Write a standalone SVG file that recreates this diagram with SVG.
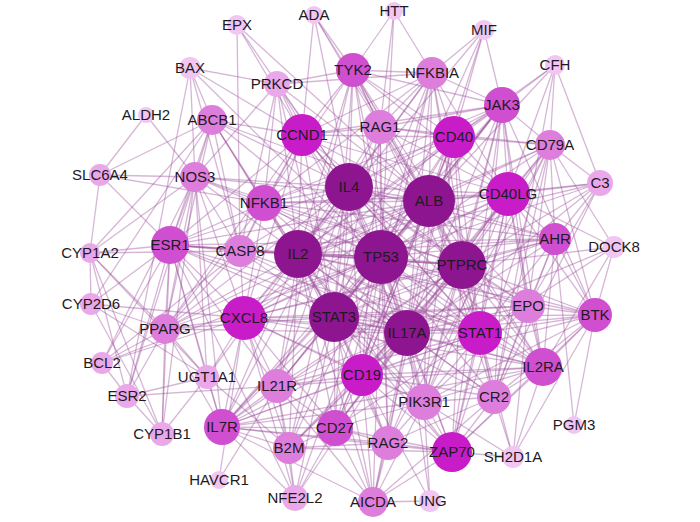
<svg xmlns="http://www.w3.org/2000/svg" width="700" height="522" viewBox="0 0 700 522">
<style>
#edges path{fill:none;stroke:#9d509d;stroke-opacity:.42;stroke-width:1.3}
.n text{font-family:"Liberation Sans",Arial,sans-serif;font-size:15px;fill:#1e1a1e;text-anchor:middle}
.d circle{fill:#8d158f}
.b circle{fill:#c81cc8}
.m circle{fill:#d04ed0}
.l circle{fill:#dd7edd}
.p2 circle{fill:#eaa8ea}
.p circle{fill:#f2c6f2}
</style>
<rect width="700" height="522" fill="#ffffff"/>
<g id="edges">
<path d="M237 25L240 251"/><path d="M237 25L302 135"/><path d="M237 25L349 187"/><path d="M237 25L429 201"/>
<path d="M314 15L302 135"/><path d="M314 15L353 70"/><path d="M314 15L349 187"/><path d="M314 15L429 201"/><path d="M314 15L380 127"/>
<path d="M394 11L353 70"/><path d="M394 11L381 257"/><path d="M394 11L432 73"/><path d="M394 11L380 127"/>
<path d="M484 30L432 73"/><path d="M484 30L454 137"/><path d="M484 30L429 201"/><path d="M484 30L381 257"/><path d="M484 30L298 254"/><path d="M484 30L502 105"/>
<path d="M190 68L302 135"/><path d="M190 68L381 257"/><path d="M190 68L240 251"/><path d="M190 68L195 177"/><path d="M190 68L127 396"/><path d="M190 68L212 120"/><path d="M190 68L277 84"/>
<path d="M146 115L100 175"/><path d="M146 115L195 177"/>
<path d="M100 175L195 177"/><path d="M100 175L90 253"/><path d="M100 175L212 120"/><path d="M100 175L264 203"/><path d="M100 175L170 245"/>
<path d="M90 253L170 245"/><path d="M90 253L91 304"/><path d="M90 253L165 329"/><path d="M90 253L240 251"/><path d="M90 253L207 377"/><path d="M90 253L212 120"/><path d="M90 253L127 396"/><path d="M90 253L195 177"/>
<path d="M91 304L170 245"/><path d="M91 304L165 329"/><path d="M91 304L207 377"/><path d="M91 304L162 434"/><path d="M91 304L212 120"/><path d="M91 304L244 318"/>
<path d="M102 363L170 245"/><path d="M102 363L165 329"/><path d="M102 363L244 318"/><path d="M102 363L381 257"/><path d="M102 363L127 396"/><path d="M102 363L195 177"/><path d="M102 363L240 251"/>
<path d="M127 396L170 245"/><path d="M127 396L165 329"/><path d="M127 396L207 377"/><path d="M127 396L162 434"/><path d="M127 396L277 386"/><path d="M127 396L195 177"/>
<path d="M162 434L170 245"/><path d="M162 434L165 329"/><path d="M162 434L207 377"/><path d="M162 434L90 253"/><path d="M162 434L195 177"/>
<path d="M207 377L165 329"/><path d="M207 377L170 245"/><path d="M207 377L195 177"/><path d="M207 377L222 427"/><path d="M207 377L244 318"/><path d="M207 377L298 254"/>
<path d="M165 329L244 318"/><path d="M165 329L195 177"/><path d="M165 329L170 245"/><path d="M165 329L381 257"/><path d="M165 329L298 254"/><path d="M165 329L334 317"/><path d="M165 329L264 203"/><path d="M165 329L429 201"/><path d="M165 329L349 187"/><path d="M165 329L302 135"/><path d="M165 329L407 333"/><path d="M165 329L240 251"/><path d="M165 329L222 427"/>
<path d="M195 177L170 245"/><path d="M195 177L240 251"/><path d="M195 177L264 203"/><path d="M195 177L298 254"/><path d="M195 177L381 257"/><path d="M195 177L429 201"/><path d="M195 177L212 120"/><path d="M195 177L244 318"/><path d="M195 177L349 187"/><path d="M195 177L462 265"/><path d="M195 177L222 427"/><path d="M195 177L277 84"/>
<path d="M212 120L170 245"/><path d="M212 120L240 251"/><path d="M212 120L381 257"/><path d="M212 120L298 254"/><path d="M212 120L429 201"/><path d="M212 120L302 135"/><path d="M212 120L264 203"/><path d="M212 120L165 329"/><path d="M212 120L349 187"/><path d="M212 120L334 317"/>
<path d="M170 245L240 251"/><path d="M170 245L244 318"/><path d="M170 245L298 254"/><path d="M170 245L381 257"/><path d="M170 245L334 317"/><path d="M170 245L264 203"/><path d="M170 245L302 135"/><path d="M170 245L429 201"/><path d="M170 245L349 187"/><path d="M170 245L462 265"/><path d="M170 245L407 333"/><path d="M170 245L480 333"/><path d="M170 245L222 427"/><path d="M170 245L277 386"/>
<path d="M240 251L298 254"/><path d="M240 251L381 257"/><path d="M240 251L334 317"/><path d="M240 251L264 203"/><path d="M240 251L244 318"/><path d="M240 251L429 201"/><path d="M240 251L349 187"/><path d="M240 251L462 265"/><path d="M240 251L302 135"/><path d="M240 251L480 333"/><path d="M240 251L407 333"/>
<path d="M277 84L353 70"/><path d="M277 84L302 135"/><path d="M277 84L264 203"/><path d="M277 84L349 187"/><path d="M277 84L381 257"/><path d="M277 84L429 201"/><path d="M277 84L298 254"/><path d="M277 84L240 251"/><path d="M277 84L334 317"/><path d="M277 84L432 73"/>
<path d="M353 70L432 73"/><path d="M353 70L380 127"/><path d="M353 70L302 135"/><path d="M353 70L349 187"/><path d="M353 70L429 201"/><path d="M353 70L381 257"/><path d="M353 70L298 254"/><path d="M353 70L334 317"/><path d="M353 70L480 333"/><path d="M353 70L502 105"/><path d="M353 70L454 137"/><path d="M353 70L264 203"/><path d="M353 70L462 265"/><path d="M353 70L407 333"/><path d="M353 70L508 194"/><path d="M353 70L543 367"/><path d="M353 70L277 386"/>
<path d="M432 73L380 127"/><path d="M432 73L454 137"/><path d="M432 73L502 105"/><path d="M432 73L349 187"/><path d="M432 73L429 201"/><path d="M432 73L381 257"/><path d="M432 73L298 254"/><path d="M432 73L264 203"/><path d="M432 73L302 135"/><path d="M432 73L334 317"/><path d="M432 73L480 333"/><path d="M432 73L462 265"/><path d="M432 73L508 194"/><path d="M432 73L407 333"/><path d="M432 73L362 375"/>
<path d="M555 65L600 183"/><path d="M555 65L502 105"/><path d="M555 65L454 137"/><path d="M555 65L508 194"/><path d="M555 65L494 397"/><path d="M555 65L429 201"/><path d="M555 65L550 145"/>
<path d="M502 105L454 137"/><path d="M502 105L508 194"/><path d="M502 105L429 201"/><path d="M502 105L381 257"/><path d="M502 105L298 254"/><path d="M502 105L349 187"/><path d="M502 105L334 317"/><path d="M502 105L480 333"/><path d="M502 105L462 265"/><path d="M502 105L407 333"/><path d="M502 105L550 145"/><path d="M502 105L543 367"/><path d="M502 105L452 452"/><path d="M502 105L595 315"/><path d="M502 105L264 203"/><path d="M502 105L380 127"/><path d="M502 105L222 427"/><path d="M502 105L277 386"/><path d="M502 105L302 135"/>
<path d="M550 145L454 137"/><path d="M550 145L508 194"/><path d="M550 145L362 375"/><path d="M550 145L494 397"/><path d="M550 145L595 315"/><path d="M550 145L462 265"/><path d="M550 145L555 239"/><path d="M550 145L600 183"/><path d="M550 145L429 201"/><path d="M550 145L298 254"/><path d="M550 145L381 257"/><path d="M550 145L528 306"/><path d="M550 145L424 402"/><path d="M550 145L380 127"/><path d="M550 145L452 452"/><path d="M550 145L388 443"/><path d="M550 145L614 247"/>
<path d="M600 183L508 194"/><path d="M600 183L494 397"/><path d="M600 183L555 239"/><path d="M600 183L429 201"/><path d="M600 183L462 265"/><path d="M600 183L298 254"/><path d="M600 183L362 375"/><path d="M600 183L381 257"/><path d="M600 183L528 306"/>
<path d="M614 247L595 315"/><path d="M614 247L543 367"/><path d="M614 247L462 265"/><path d="M614 247L480 333"/><path d="M614 247L508 194"/><path d="M614 247L407 333"/>
<path d="M555 239L508 194"/><path d="M555 239L429 201"/><path d="M555 239L381 257"/><path d="M555 239L462 265"/><path d="M555 239L298 254"/><path d="M555 239L349 187"/><path d="M555 239L334 317"/><path d="M555 239L407 333"/><path d="M555 239L480 333"/><path d="M555 239L528 306"/><path d="M555 239L595 315"/><path d="M555 239L494 397"/><path d="M555 239L543 367"/><path d="M555 239L170 245"/><path d="M555 239L264 203"/><path d="M555 239L244 318"/><path d="M555 239L574 425"/>
<path d="M528 306L462 265"/><path d="M528 306L480 333"/><path d="M528 306L334 317"/><path d="M528 306L381 257"/><path d="M528 306L429 201"/><path d="M528 306L298 254"/><path d="M528 306L349 187"/><path d="M528 306L595 315"/><path d="M528 306L543 367"/><path d="M528 306L508 194"/><path d="M528 306L502 105"/><path d="M528 306L407 333"/><path d="M528 306L494 397"/><path d="M528 306L244 318"/><path d="M528 306L513 457"/><path d="M528 306L424 402"/>
<path d="M595 315L334 317"/><path d="M595 315L362 375"/><path d="M595 315L462 265"/><path d="M595 315L480 333"/><path d="M595 315L543 367"/><path d="M595 315L494 397"/><path d="M595 315L452 452"/><path d="M595 315L424 402"/><path d="M595 315L574 425"/><path d="M595 315L508 194"/><path d="M595 315L513 457"/><path d="M595 315L407 333"/><path d="M595 315L298 254"/><path d="M595 315L381 257"/>
<path d="M513 457L452 452"/><path d="M513 457L494 397"/><path d="M513 457L543 367"/><path d="M513 457L424 402"/><path d="M513 457L480 333"/>
<path d="M430 501L373 502"/><path d="M430 501L424 402"/><path d="M430 501L407 333"/><path d="M430 501L362 375"/>
<path d="M373 502L388 443"/><path d="M373 502L362 375"/><path d="M373 502L335 428"/><path d="M373 502L452 452"/><path d="M373 502L277 386"/><path d="M373 502L424 402"/><path d="M373 502L407 333"/><path d="M373 502L454 137"/><path d="M373 502L334 317"/><path d="M373 502L222 427"/><path d="M373 502L494 397"/><path d="M373 502L298 254"/><path d="M373 502L381 257"/>
<path d="M295 498L289 448"/><path d="M295 498L222 427"/><path d="M295 498L335 428"/><path d="M295 498L277 386"/><path d="M295 498L334 317"/><path d="M295 498L381 257"/><path d="M295 498L244 318"/><path d="M295 498L170 245"/><path d="M295 498L407 333"/>
<path d="M219 480L277 386"/><path d="M219 480L244 318"/>
<path d="M289 448L222 427"/><path d="M289 448L335 428"/><path d="M289 448L452 452"/><path d="M289 448L277 386"/><path d="M289 448L362 375"/><path d="M289 448L334 317"/><path d="M289 448L298 254"/><path d="M289 448L381 257"/><path d="M289 448L407 333"/><path d="M289 448L244 318"/><path d="M289 448L349 187"/><path d="M289 448L462 265"/><path d="M289 448L207 377"/><path d="M289 448L388 443"/>
<path d="M222 427L277 386"/><path d="M222 427L335 428"/><path d="M222 427L244 318"/><path d="M222 427L334 317"/><path d="M222 427L298 254"/><path d="M222 427L381 257"/><path d="M222 427L407 333"/><path d="M222 427L362 375"/><path d="M222 427L480 333"/><path d="M222 427L452 452"/><path d="M222 427L543 367"/><path d="M222 427L424 402"/><path d="M222 427L388 443"/><path d="M222 427L349 187"/><path d="M222 427L462 265"/><path d="M222 427L429 201"/>
<path d="M335 428L362 375"/><path d="M335 428L277 386"/><path d="M335 428L388 443"/><path d="M335 428L452 452"/><path d="M335 428L298 254"/><path d="M335 428L334 317"/><path d="M335 428L381 257"/><path d="M335 428L407 333"/><path d="M335 428L244 318"/><path d="M335 428L424 402"/><path d="M335 428L349 187"/><path d="M335 428L462 265"/><path d="M335 428L480 333"/><path d="M335 428L454 137"/><path d="M335 428L508 194"/><path d="M335 428L429 201"/>
<path d="M388 443L380 127"/><path d="M388 443L452 452"/><path d="M388 443L362 375"/><path d="M388 443L424 402"/><path d="M388 443L407 333"/><path d="M388 443L334 317"/><path d="M388 443L381 257"/><path d="M388 443L298 254"/><path d="M388 443L462 265"/><path d="M388 443L494 397"/>
<path d="M452 452L424 402"/><path d="M452 452L494 397"/><path d="M452 452L543 367"/><path d="M452 452L480 333"/><path d="M452 452L407 333"/><path d="M452 452L462 265"/><path d="M452 452L381 257"/><path d="M452 452L334 317"/><path d="M452 452L362 375"/><path d="M452 452L298 254"/><path d="M452 452L508 194"/>
<path d="M424 402L362 375"/><path d="M424 402L407 333"/><path d="M424 402L480 333"/><path d="M424 402L334 317"/><path d="M424 402L381 257"/><path d="M424 402L462 265"/><path d="M424 402L298 254"/><path d="M424 402L494 397"/><path d="M424 402L543 367"/><path d="M424 402L454 137"/><path d="M424 402L508 194"/><path d="M424 402L429 201"/><path d="M424 402L349 187"/><path d="M424 402L244 318"/><path d="M424 402L502 105"/>
<path d="M494 397L362 375"/><path d="M494 397L480 333"/><path d="M494 397L407 333"/><path d="M494 397L462 265"/><path d="M494 397L543 367"/><path d="M494 397L381 257"/><path d="M494 397L508 194"/><path d="M494 397L429 201"/><path d="M494 397L298 254"/><path d="M494 397L334 317"/>
<path d="M543 367L480 333"/><path d="M543 367L462 265"/><path d="M543 367L407 333"/><path d="M543 367L381 257"/><path d="M543 367L298 254"/><path d="M543 367L334 317"/><path d="M543 367L349 187"/><path d="M543 367L429 201"/><path d="M543 367L508 194"/><path d="M543 367L362 375"/><path d="M543 367L244 318"/><path d="M543 367L277 386"/>
<path d="M277 386L244 318"/><path d="M277 386L334 317"/><path d="M277 386L298 254"/><path d="M277 386L381 257"/><path d="M277 386L407 333"/><path d="M277 386L362 375"/><path d="M277 386L480 333"/><path d="M277 386L349 187"/><path d="M277 386L462 265"/>
<path d="M362 375L334 317"/><path d="M362 375L407 333"/><path d="M362 375L381 257"/><path d="M362 375L298 254"/><path d="M362 375L462 265"/><path d="M362 375L480 333"/><path d="M362 375L349 187"/><path d="M362 375L429 201"/><path d="M362 375L454 137"/><path d="M362 375L508 194"/><path d="M362 375L244 318"/>
<path d="M244 318L334 317"/><path d="M244 318L298 254"/><path d="M244 318L381 257"/><path d="M244 318L407 333"/><path d="M244 318L349 187"/><path d="M244 318L429 201"/><path d="M244 318L462 265"/><path d="M244 318L480 333"/><path d="M244 318L264 203"/><path d="M244 318L302 135"/><path d="M244 318L454 137"/><path d="M244 318L508 194"/>
<path d="M480 333L462 265"/><path d="M480 333L407 333"/><path d="M480 333L381 257"/><path d="M480 333L334 317"/><path d="M480 333L298 254"/><path d="M480 333L349 187"/><path d="M480 333L429 201"/><path d="M480 333L454 137"/><path d="M480 333L508 194"/><path d="M480 333L302 135"/><path d="M480 333L264 203"/>
<path d="M508 194L454 137"/><path d="M508 194L429 201"/><path d="M508 194L462 265"/><path d="M508 194L381 257"/><path d="M508 194L349 187"/><path d="M508 194L298 254"/><path d="M508 194L334 317"/><path d="M508 194L407 333"/><path d="M508 194L302 135"/><path d="M508 194L380 127"/><path d="M508 194L264 203"/>
<path d="M454 137L429 201"/><path d="M454 137L349 187"/><path d="M454 137L381 257"/><path d="M454 137L298 254"/><path d="M454 137L462 265"/><path d="M454 137L334 317"/><path d="M454 137L302 135"/><path d="M454 137L380 127"/><path d="M454 137L264 203"/><path d="M454 137L407 333"/>
<path d="M380 127L349 187"/><path d="M380 127L429 201"/><path d="M380 127L381 257"/><path d="M380 127L298 254"/><path d="M380 127L334 317"/><path d="M380 127L462 265"/><path d="M380 127L302 135"/><path d="M380 127L362 375"/>
<path d="M302 135L349 187"/><path d="M302 135L429 201"/><path d="M302 135L381 257"/><path d="M302 135L298 254"/><path d="M302 135L334 317"/><path d="M302 135L462 265"/><path d="M302 135L264 203"/><path d="M302 135L407 333"/>
<path d="M264 203L349 187"/><path d="M264 203L298 254"/><path d="M264 203L381 257"/><path d="M264 203L429 201"/><path d="M264 203L334 317"/><path d="M264 203L462 265"/><path d="M264 203L407 333"/>
<path d="M349 187L429 201"/><path d="M349 187L298 254"/><path d="M349 187L381 257"/><path d="M349 187L462 265"/><path d="M349 187L334 317"/><path d="M349 187L407 333"/>
<path d="M429 201L298 254"/><path d="M429 201L381 257"/><path d="M429 201L462 265"/><path d="M429 201L334 317"/><path d="M429 201L407 333"/>
<path d="M298 254L381 257"/><path d="M298 254L462 265"/><path d="M298 254L334 317"/><path d="M298 254L407 333"/>
<path d="M381 257L462 265"/><path d="M381 257L334 317"/><path d="M381 257L407 333"/>
<path d="M462 265L334 317"/><path d="M462 265L407 333"/><path d="M334 317L407 333"/>
</g>
<g id="nodes">
<g id="n-EPX" class="n p"><circle cx="237" cy="25" r="10"/><text x="237" y="30">EPX</text></g>
<g id="n-ADA" class="n p"><circle cx="314" cy="15" r="9"/><text x="314" y="20">ADA</text></g>
<g id="n-HTT" class="n p"><circle cx="394" cy="11" r="9"/><text x="394" y="16">HTT</text></g>
<g id="n-MIF" class="n p"><circle cx="484" cy="30" r="10"/><text x="484" y="35">MIF</text></g>
<g id="n-BAX" class="n p"><circle cx="190" cy="68" r="11"/><text x="190" y="73">BAX</text></g>
<g id="n-PRKCD" class="n p2"><circle cx="277" cy="84" r="13"/><text x="277" y="89">PRKCD</text></g>
<g id="n-TYK2" class="n m"><circle cx="353" cy="70" r="17"/><text x="353" y="75">TYK2</text></g>
<g id="n-NFKBIA" class="n l"><circle cx="432" cy="73" r="16"/><text x="432" y="78">NFKBIA</text></g>
<g id="n-CFH" class="n p"><circle cx="555" cy="65" r="10"/><text x="555" y="70">CFH</text></g>
<g id="n-ALDH2" class="n p"><circle cx="146" cy="115" r="8"/><text x="146" y="120">ALDH2</text></g>
<g id="n-ABCB1" class="n l"><circle cx="212" cy="120" r="15"/><text x="212" y="125">ABCB1</text></g>
<g id="n-CCND1" class="n b"><circle cx="302" cy="135" r="21"/><text x="302" y="140">CCND1</text></g>
<g id="n-RAG1" class="n l"><circle cx="380" cy="127" r="17"/><text x="380" y="132">RAG1</text></g>
<g id="n-JAK3" class="n m"><circle cx="502" cy="105" r="18"/><text x="502" y="110">JAK3</text></g>
<g id="n-CD40" class="n b"><circle cx="454" cy="137" r="21"/><text x="454" y="142">CD40</text></g>
<g id="n-CD79A" class="n l"><circle cx="550" cy="145" r="15"/><text x="550" y="150">CD79A</text></g>
<g id="n-SLC6A4" class="n p2"><circle cx="100" cy="175" r="11"/><text x="100" y="180">SLC6A4</text></g>
<g id="n-NOS3" class="n l"><circle cx="195" cy="177" r="15"/><text x="195" y="182">NOS3</text></g>
<g id="n-NFKB1" class="n m"><circle cx="264" cy="203" r="18"/><text x="264" y="208">NFKB1</text></g>
<g id="n-IL4" class="n d"><circle cx="349" cy="187" r="24"/><text x="349" y="192">IL4</text></g>
<g id="n-ALB" class="n d"><circle cx="429" cy="201" r="26"/><text x="429" y="206">ALB</text></g>
<g id="n-CD40LG" class="n b"><circle cx="508" cy="194" r="22"/><text x="508" y="199">CD40LG</text></g>
<g id="n-C3" class="n p2"><circle cx="600" cy="183" r="13"/><text x="600" y="188">C3</text></g>
<g id="n-CYP1A2" class="n p2"><circle cx="90" cy="253" r="10"/><text x="90" y="258">CYP1A2</text></g>
<g id="n-ESR1" class="n m"><circle cx="170" cy="245" r="19"/><text x="170" y="250">ESR1</text></g>
<g id="n-CASP8" class="n l"><circle cx="240" cy="251" r="16"/><text x="240" y="256">CASP8</text></g>
<g id="n-IL2" class="n d"><circle cx="298" cy="254" r="24"/><text x="298" y="259">IL2</text></g>
<g id="n-TP53" class="n d"><circle cx="381" cy="257" r="27"/><text x="381" y="262">TP53</text></g>
<g id="n-PTPRC" class="n d"><circle cx="462" cy="265" r="24"/><text x="462" y="270">PTPRC</text></g>
<g id="n-AHR" class="n m"><circle cx="555" cy="239" r="16"/><text x="555" y="244">AHR</text></g>
<g id="n-DOCK8" class="n p"><circle cx="614" cy="247" r="11"/><text x="614" y="252">DOCK8</text></g>
<g id="n-CYP2D6" class="n p2"><circle cx="91" cy="304" r="11"/><text x="91" y="309">CYP2D6</text></g>
<g id="n-PPARG" class="n l"><circle cx="165" cy="329" r="15"/><text x="165" y="334">PPARG</text></g>
<g id="n-CXCL8" class="n b"><circle cx="244" cy="318" r="22"/><text x="244" y="323">CXCL8</text></g>
<g id="n-STAT3" class="n d"><circle cx="334" cy="317" r="25"/><text x="334" y="322">STAT3</text></g>
<g id="n-IL17A" class="n d"><circle cx="407" cy="333" r="23"/><text x="407" y="338">IL17A</text></g>
<g id="n-STAT1" class="n b"><circle cx="480" cy="333" r="22"/><text x="480" y="338">STAT1</text></g>
<g id="n-EPO" class="n l"><circle cx="528" cy="306" r="17"/><text x="528" y="311">EPO</text></g>
<g id="n-BTK" class="n m"><circle cx="595" cy="315" r="17"/><text x="595" y="320">BTK</text></g>
<g id="n-BCL2" class="n p2"><circle cx="102" cy="363" r="11"/><text x="102" y="368">BCL2</text></g>
<g id="n-UGT1A1" class="n p2"><circle cx="207" cy="377" r="12"/><text x="207" y="382">UGT1A1</text></g>
<g id="n-ESR2" class="n p2"><circle cx="127" cy="396" r="12"/><text x="127" y="401">ESR2</text></g>
<g id="n-IL21R" class="n l"><circle cx="277" cy="386" r="17"/><text x="277" y="391">IL21R</text></g>
<g id="n-CD19" class="n b"><circle cx="362" cy="375" r="21"/><text x="362" y="380">CD19</text></g>
<g id="n-IL2RA" class="n m"><circle cx="543" cy="367" r="19"/><text x="543" y="372">IL2RA</text></g>
<g id="n-CR2" class="n l"><circle cx="494" cy="397" r="17"/><text x="494" y="402">CR2</text></g>
<g id="n-PIK3R1" class="n l"><circle cx="424" cy="402" r="18"/><text x="424" y="407">PIK3R1</text></g>
<g id="n-CYP1B1" class="n p2"><circle cx="162" cy="434" r="12"/><text x="162" y="439">CYP1B1</text></g>
<g id="n-IL7R" class="n m"><circle cx="222" cy="427" r="18"/><text x="222" y="432">IL7R</text></g>
<g id="n-B2M" class="n l"><circle cx="289" cy="448" r="16"/><text x="289" y="453">B2M</text></g>
<g id="n-CD27" class="n m"><circle cx="335" cy="428" r="18"/><text x="335" y="433">CD27</text></g>
<g id="n-RAG2" class="n l"><circle cx="388" cy="443" r="17"/><text x="388" y="448">RAG2</text></g>
<g id="n-ZAP70" class="n b"><circle cx="452" cy="452" r="20"/><text x="452" y="457">ZAP70</text></g>
<g id="n-SH2D1A" class="n p"><circle cx="513" cy="457" r="11"/><text x="513" y="462">SH2D1A</text></g>
<g id="n-PGM3" class="n p"><circle cx="574" cy="425" r="9"/><text x="574" y="430">PGM3</text></g>
<g id="n-HAVCR1" class="n p"><circle cx="219" cy="480" r="9"/><text x="219" y="485">HAVCR1</text></g>
<g id="n-NFE2L2" class="n p2"><circle cx="295" cy="498" r="13"/><text x="295" y="503">NFE2L2</text></g>
<g id="n-AICDA" class="n l"><circle cx="373" cy="502" r="15"/><text x="373" y="507">AICDA</text></g>
<g id="n-UNG" class="n p"><circle cx="430" cy="501" r="11"/><text x="430" y="506">UNG</text></g>
</g>
</svg>
